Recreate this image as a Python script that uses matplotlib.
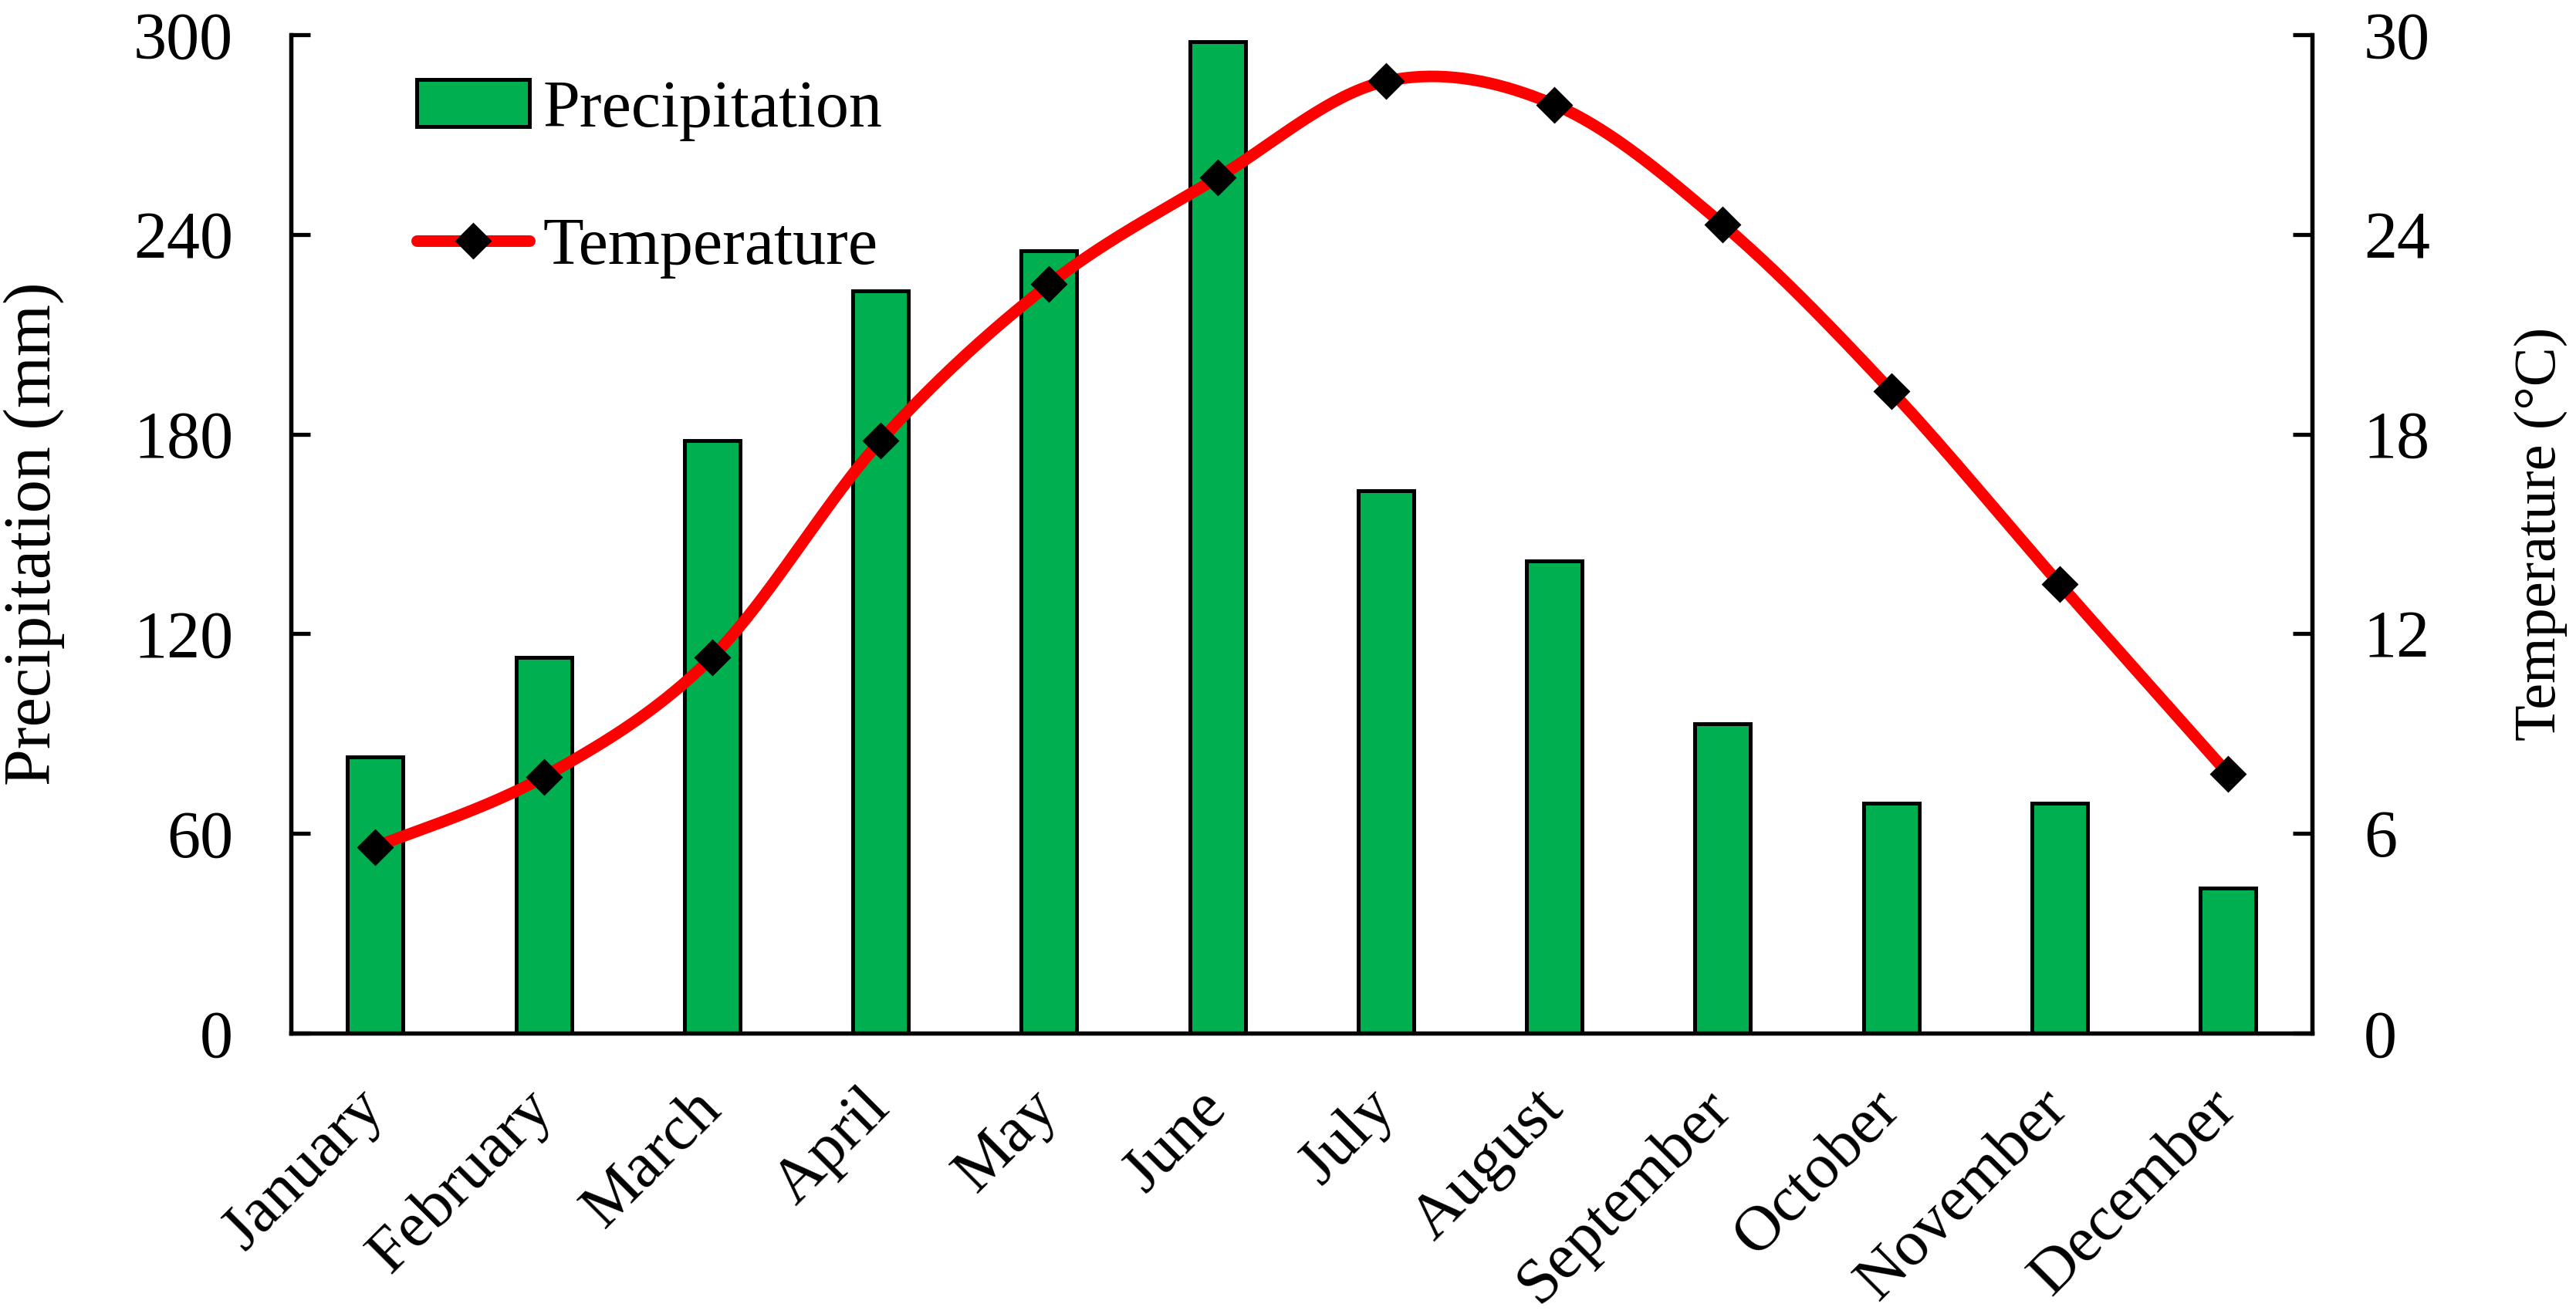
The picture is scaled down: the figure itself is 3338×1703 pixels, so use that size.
"""Monthly precipitation bars with smoothed temperature curve on a twin axis."""
import matplotlib
matplotlib.use("Agg")
import matplotlib.pyplot as plt
import numpy as np
from matplotlib.lines import Line2D
from matplotlib.patches import Patch

months = ["January", "February", "March", "April", "May", "June",
          "July", "August", "September", "October", "November", "December"]
precip = [83, 113, 178, 223, 235, 298, 163, 142, 93, 69, 69, 43.5]
temp = [5.6, 7.7, 11.3, 17.8, 22.5, 25.7, 28.6, 27.9, 24.3, 19.3, 13.5, 7.8]


def smooth_curve(x, y, n=40):
    # Excel-style smoothed line: cubic bezier with catmull-rom control points
    x = np.asarray(x, float)
    y = np.asarray(y, float)
    px = np.concatenate([[x[0]], x, [x[-1]]])
    py = np.concatenate([[y[0]], y, [y[-1]]])
    t = np.linspace(0, 1, n)[:, None]
    xs, ys = [], []
    for i in range(len(x) - 1):
        p0 = np.array([px[i + 1], py[i + 1]])
        p3 = np.array([px[i + 2], py[i + 2]])
        c1 = p0 + (p3 - np.array([px[i], py[i]])) / 6
        c2 = p3 - (np.array([px[i + 3], py[i + 3]]) - p0) / 6
        b = ((1 - t) ** 3) * p0 + 3 * ((1 - t) ** 2) * t * c1 + 3 * (1 - t) * t ** 2 * c2 + t ** 3 * p3
        xs.append(b[:, 0])
        ys.append(b[:, 1])
    return np.concatenate(xs), np.concatenate(ys)


plt.rcParams["font.family"] = ["Liberation Serif", "DejaVu Serif"]
plt.rcParams["font.size"] = 31

fig = plt.figure(figsize=(16.69, 8.515), dpi=200)
ax = fig.add_axes([0.113, 0.2137, 0.7846, 0.7599])
ax2 = ax.twinx()

green = "#00B050"
x = np.arange(len(months))
ax.bar(x, precip, width=0.33, color=green, edgecolor="black", linewidth=1.8, zorder=2)

sx, sy = smooth_curve(x, temp)
ax2.plot(sx, sy, color="#FF0000", lw=5.4, solid_capstyle="round", zorder=3)
ax2.plot(x, temp, ls="none", marker="D", ms=11, color="black", zorder=4)

ax.set_xlim(-0.5, 11.5)
ax.set_ylim(0, 300)
ax2.set_ylim(0, 30)
ax.set_yticks(np.arange(0, 301, 60))
ax2.set_yticks(np.arange(0, 31, 6))

ax.set_xticks(x)
ax.set_xticklabels(months, rotation=45, ha="right", va="center",
                   rotation_mode="anchor", fontsize=30)
ax.tick_params(axis="x", length=0, pad=31)
ax.tick_params(axis="y", direction="in", length=9, width=1.9, pad=27)
ax2.tick_params(axis="y", direction="in", length=9, width=1.9, pad=24)

for a in (ax, ax2):
    a.spines["top"].set_visible(False)
    for s in ("left", "right", "bottom"):
        a.spines[s].set_linewidth(1.9)

ax.set_ylabel("Precipitation (mm)")
ax.yaxis.set_label_coords(-0.112, 0.5)
ax2.set_ylabel("Temperature (°C)", fontsize=27.5)
ax2.yaxis.set_label_coords(1.10, 0.5)

handles = [
    Patch(facecolor=green, edgecolor="black", linewidth=1.8),
    Line2D([0], [0], color="#FF0000", lw=5.4, solid_capstyle="round",
           marker="D", ms=11, markerfacecolor="black", markeredgecolor="black"),
]
ax2.legend(handles, ["Precipitation", "Temperature"], loc="upper left",
           bbox_to_anchor=(0.062, 0.955), frameon=False, borderpad=0,
           borderaxespad=0, handlelength=1.7, handletextpad=0.2,
           labelspacing=1.15, numpoints=1)

fig.savefig("out.png", dpi=200)
